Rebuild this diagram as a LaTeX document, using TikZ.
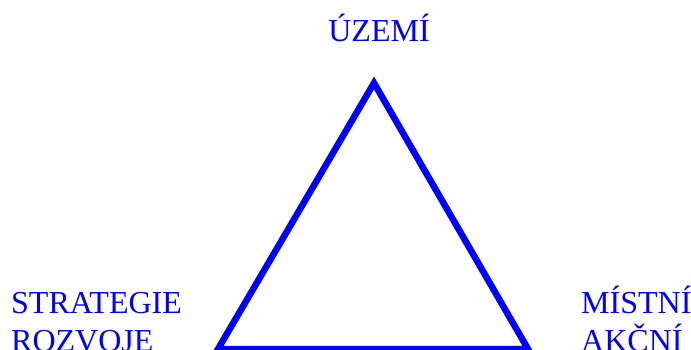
\documentclass[tikz,border=0pt]{standalone}
\usepackage{fontspec}
\setmainfont{Liberation Serif}
\usetikzlibrary{positioning}

\begin{document}
\begin{tikzpicture}[
    x=1pt, y=-1pt,
    every node/.style={font=\fontsize{32}{38}\selectfont, text=blue, inner sep=0pt},
    label text/.style={align=left, anchor=base west},
    side/.style={draw=blue, line width=6.5pt, miter limit=20}
]
\useasboundingbox (0,0) rectangle (691,350);

% Corners
\coordinate (apex) at (374,83);
\coordinate (left) at (218,349);
\coordinate (right) at (528,349);

% Labels
\node[anchor=base] (uzemi) at (379,42) {ÚZEMÍ};
\node[label text] (strategie) at (11,351) {STRATEGIE\\ROZVOJE};
\node[label text] (mistni) at (581,351) {MÍSTNÍ\\AKČNÍ};

% Triangle
\draw[side] (apex) -- (left) -- (right) -- cycle;

\end{tikzpicture}
\end{document}
